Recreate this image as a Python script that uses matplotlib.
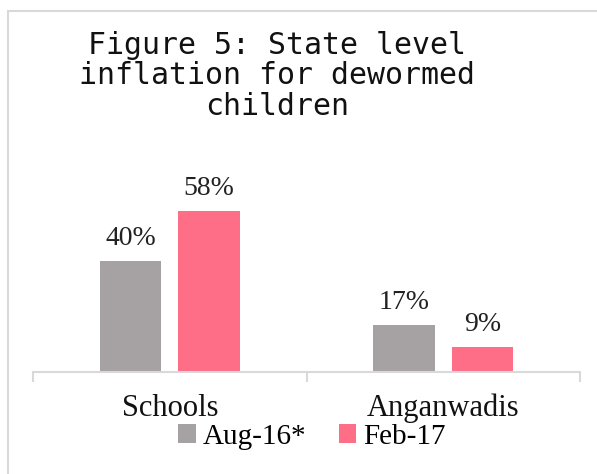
import numpy as np
import matplotlib.pyplot as plt
from matplotlib.patches import Rectangle

# chart data
categories = ['Schools', 'Anganwadis']
series_names = ['Aug-16*', 'Feb-17']
aug16 = [40, 17]
feb17 = [58, 9]
colors = ['#a6a2a3', '#fe6e87']

fig = plt.figure(figsize=(5.97, 4.74), dpi=100)

# light grey frame of the chart area (cropped on right/bottom)
fig.patches.append(Rectangle((7.5 / 597, -0.1), 1.2, (474 - 10.5) / 474 + 0.1,
                             transform=fig.transFigure, fill=False,
                             edgecolor='#d9d9d9', linewidth=1.5))

ax = fig.add_axes([33 / 597, (474 - 372) / 474, (580 - 33) / 597, 222 / 474])

x = np.arange(len(categories))
w = 0.224
gap = 0.0625
pos_a = x - (w + gap) / 2
pos_b = x + (w + gap) / 2
bars_a = ax.bar(pos_a, aug16, width=w, color=colors[0], label=series_names[0])
bars_b = ax.bar(pos_b, feb17, width=w, color=colors[1], label=series_names[1])

for bars, vals in [(bars_a, aug16), (bars_b, feb17)]:
    for b, v in zip(bars, vals):
        ax.annotate(f'{v}%', (b.get_x() + b.get_width() / 2, v),
                    xytext=(0, 7), textcoords='offset points',
                    ha='center', va='bottom', fontsize=20,
                    family='Liberation Serif', color='#222222')

ax.set_xlim(-0.5, 1.5)
ax.set_ylim(0, 80)
for s in ['top', 'right', 'left']:
    ax.spines[s].set_visible(False)
ax.spines['bottom'].set_color('#d9d9d9')
ax.spines['bottom'].set_linewidth(1.5)
ax.set_yticks([])
ax.set_xticks([-0.5, 0.5, 1.5], minor=False)
ax.set_xticklabels([])
ax.tick_params(axis='x', length=7, width=1.5, color='#d9d9d9')
for xi, c in zip(x, categories):
    ax.text(xi, -13, c, ha='center', va='center', fontsize=22,
            family='Liberation Serif', color='#111111',
            transform=ax.transData)

leg = fig.legend(loc='center', bbox_to_anchor=(312 / 597, 1 - 437 / 474),
                 ncol=2, frameon=False, handlelength=0.6, handleheight=0.6,
                 handletextpad=0.25, columnspacing=1.1,
                 prop={'family': 'Liberation Serif', 'size': 21})

fig.text(277 / 597, 1 - 76 / 474,
         'Figure 5: State level\ninflation for dewormed\nchildren',
         ha='center', va='center', fontsize=21.5, family='DejaVu Sans Mono',
         linespacing=1.07, color='#111111')

fig.savefig('out.png', dpi=100)
